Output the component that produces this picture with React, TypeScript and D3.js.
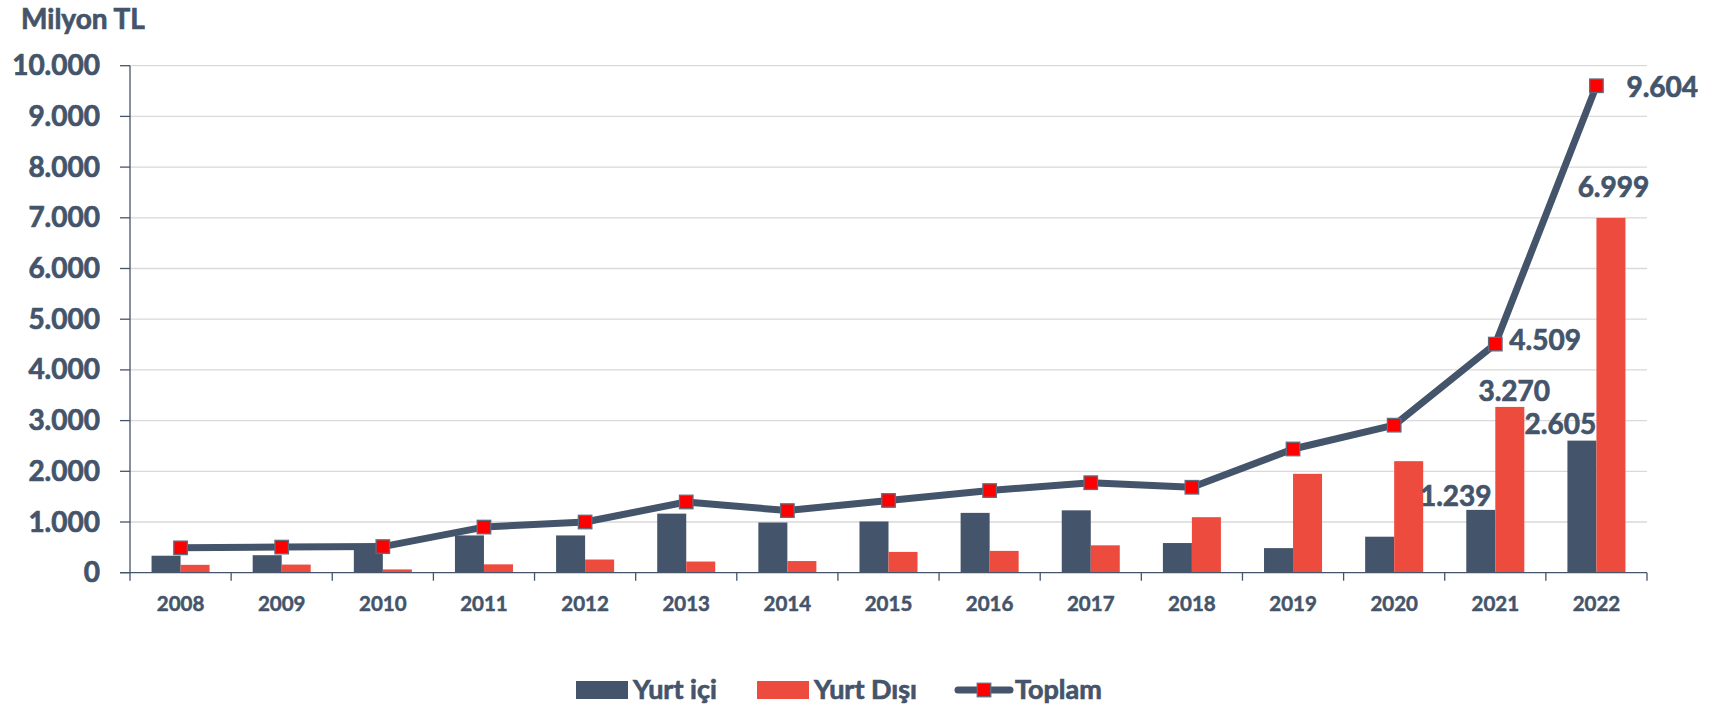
import React from "react";
import * as d3 from "d3";

const years = ["2008","2009","2010","2011","2012","2013","2014","2015","2016","2017","2018","2019","2020","2021","2022"];
const yurtIci = [335, 345, 450, 735, 735, 1165, 990, 1010, 1180, 1230, 585, 485, 710, 1239, 2605];
const yurtDisi = [155, 160, 65, 165, 260, 220, 230, 410, 430, 540, 1095, 1950, 2200, 3270, 6999];
const toplam = [490, 505, 515, 900, 1000, 1395, 1225, 1425, 1620, 1775, 1685, 2440, 2910, 4509, 9604];
const yTicks = [0, 1000, 2000, 3000, 4000, 5000, 6000, 7000, 8000, 9000, 10000];
const seriesNames = ["Yurt içi", "Yurt Dışı", "Toplam"];
const unitLabel = "Milyon TL";

// which points carry data labels (series, year index) and their offsets
const labelled = [
  { series: "ici", i: 13, dx: -25, dy: -4, anchor: "middle" },
  { series: "ici", i: 14, dx: -21.5, dy: -7, anchor: "middle" },
  { series: "disi", i: 13, dx: 4.5, dy: -6, anchor: "middle" },
  { series: "disi", i: 14, dx: 2.5, dy: -21, anchor: "middle" },
  { series: "top", i: 13, dx: 14, dy: 6, anchor: "start" },
  { series: "top", i: 14, dx: 30, dy: 11, anchor: "start" },
];

const W = 1712, H = 708;
const M = { left: 130, right: 1647, top: 65.7, bottom: 572.7 };
const DARK = "#44546A";
const RED = "#EE4B3F";
const GRID = "#D9D9D9";
const FONT = "Lato, 'Open Sans', sans-serif";
const TS = 0.7; // text thickening stroke

const loc = d3.formatLocale({ decimal: ",", thousands: ".", grouping: [3], currency: ["", ""] });
const fmt = loc.format(",d");

export default function App() {
  const x = d3.scaleBand<string>().domain(years).range([M.left, M.right]).paddingInner(0).paddingOuter(0);
  const sub = d3.scaleBand<string>().domain(["ici", "disi"]).range([0, x.bandwidth()]).paddingInner(0).paddingOuter(0.743);
  const y = d3.scaleLinear().domain([0, 10000]).range([M.bottom, M.top]);
  const cx = (i: number) => (x(years[i]) as number) + x.bandwidth() / 2;
  const line = d3.line<number>().x((_, i) => cx(i)).y((d) => y(d));
  const bw = sub.bandwidth();
  const ms = 13.5;

  const labelPos = (l: any) => {
    if (l.series === "ici") return { px: (x(years[l.i]) as number) + (sub("ici") as number) + bw / 2, py: y(yurtIci[l.i]), v: yurtIci[l.i] };
    if (l.series === "disi") return { px: (x(years[l.i]) as number) + (sub("disi") as number) + bw / 2, py: y(yurtDisi[l.i]), v: yurtDisi[l.i] };
    return { px: cx(l.i), py: y(toplam[l.i]), v: toplam[l.i] };
  };

  const txt = { fontWeight: 700, fill: DARK, stroke: DARK, strokeWidth: TS } as any;

  return (
    <svg width={W} height={H} style={{ position: "absolute", left: 0, top: 0, background: "#fff" }} fontFamily={FONT}>
      <text x={21} y={28.5} fontSize={28} {...txt}>{unitLabel}</text>
      {/* gridlines */}
      {yTicks.filter((t) => t > 0).map((t) => (
        <line key={"g" + t} x1={M.left} x2={M.right} y1={y(t)} y2={y(t)} stroke={GRID} strokeWidth={1.3} />
      ))}
      {/* y axis */}
      <line x1={M.left} x2={M.left} y1={y(10000)} y2={y(0)} stroke={DARK} strokeWidth={1.3} />
      {yTicks.map((t) => (
        <g key={"yt" + t}>
          <line x1={M.left - 10} x2={M.left} y1={y(t)} y2={y(t)} stroke={DARK} strokeWidth={1.3} />
          <text x={100} y={y(t) + 9.5} textAnchor="end" fontSize={28} {...txt}>{fmt(t)}</text>
        </g>
      ))}
      {/* bars */}
      {years.map((yr, i) => (
        <g key={"b" + yr}>
          <rect x={(x(yr) as number) + (sub("ici") as number)} y={y(yurtIci[i])} width={bw} height={y(0) - y(yurtIci[i])} fill={DARK} />
          <rect x={(x(yr) as number) + (sub("disi") as number)} y={y(yurtDisi[i])} width={bw} height={y(0) - y(yurtDisi[i])} fill={RED} />
        </g>
      ))}
      {/* x axis */}
      <line x1={M.left - 10} x2={M.right} y1={y(0)} y2={y(0)} stroke={DARK} strokeWidth={1.3} />
      {years.map((yr) => (
        <line key={"xt" + yr} x1={x(yr) as number} x2={x(yr) as number} y1={y(0)} y2={y(0) + 8} stroke={DARK} strokeWidth={1.3} />
      ))}
      <line x1={M.right} x2={M.right} y1={y(0)} y2={y(0) + 8} stroke={DARK} strokeWidth={1.3} />
      {years.map((yr, i) => (
        <text key={"xl" + yr} x={cx(i)} y={611} textAnchor="middle" fontSize={20.5} {...txt} strokeWidth={0.5}>{yr}</text>
      ))}
      {/* total line */}
      <path d={line(toplam) as string} fill="none" stroke={DARK} strokeWidth={7} strokeLinejoin="round" strokeLinecap="round" />
      {toplam.map((v, i) => (
        <rect key={"m" + i} x={cx(i) - ms / 2} y={y(v) - ms / 2} width={ms} height={ms} fill="#FF0000" stroke="#5E6C80" strokeWidth={1.3} />
      ))}
      {/* data labels */}
      {labelled.map((l, k) => {
        const p = labelPos(l);
        return (
          <text key={"dl" + k} x={p.px + l.dx} y={p.py + l.dy} textAnchor={l.anchor as any} fontSize={28} {...txt}>{fmt(p.v)}</text>
        );
      })}
      {/* legend */}
      <g>
        <rect x={576} y={681} width={52} height={18} fill={DARK} />
        <text x={633} y={699} fontSize={27} {...txt}>{seriesNames[0]}</text>
        <rect x={757} y={681} width={52} height={18} fill={RED} />
        <text x={814} y={699} fontSize={27} {...txt}>{seriesNames[1]}</text>
        <line x1={958} x2={1010} y1={690} y2={690} stroke={DARK} strokeWidth={7} strokeLinecap="round" />
        <rect x={984 - 6.75} y={690 - 6.75} width={13.5} height={13.5} fill="#FF0000" stroke="#5E6C80" strokeWidth={1.3} />
        <text x={1015} y={699} fontSize={27} {...txt}>{seriesNames[2]}</text>
      </g>
    </svg>
  );
}
